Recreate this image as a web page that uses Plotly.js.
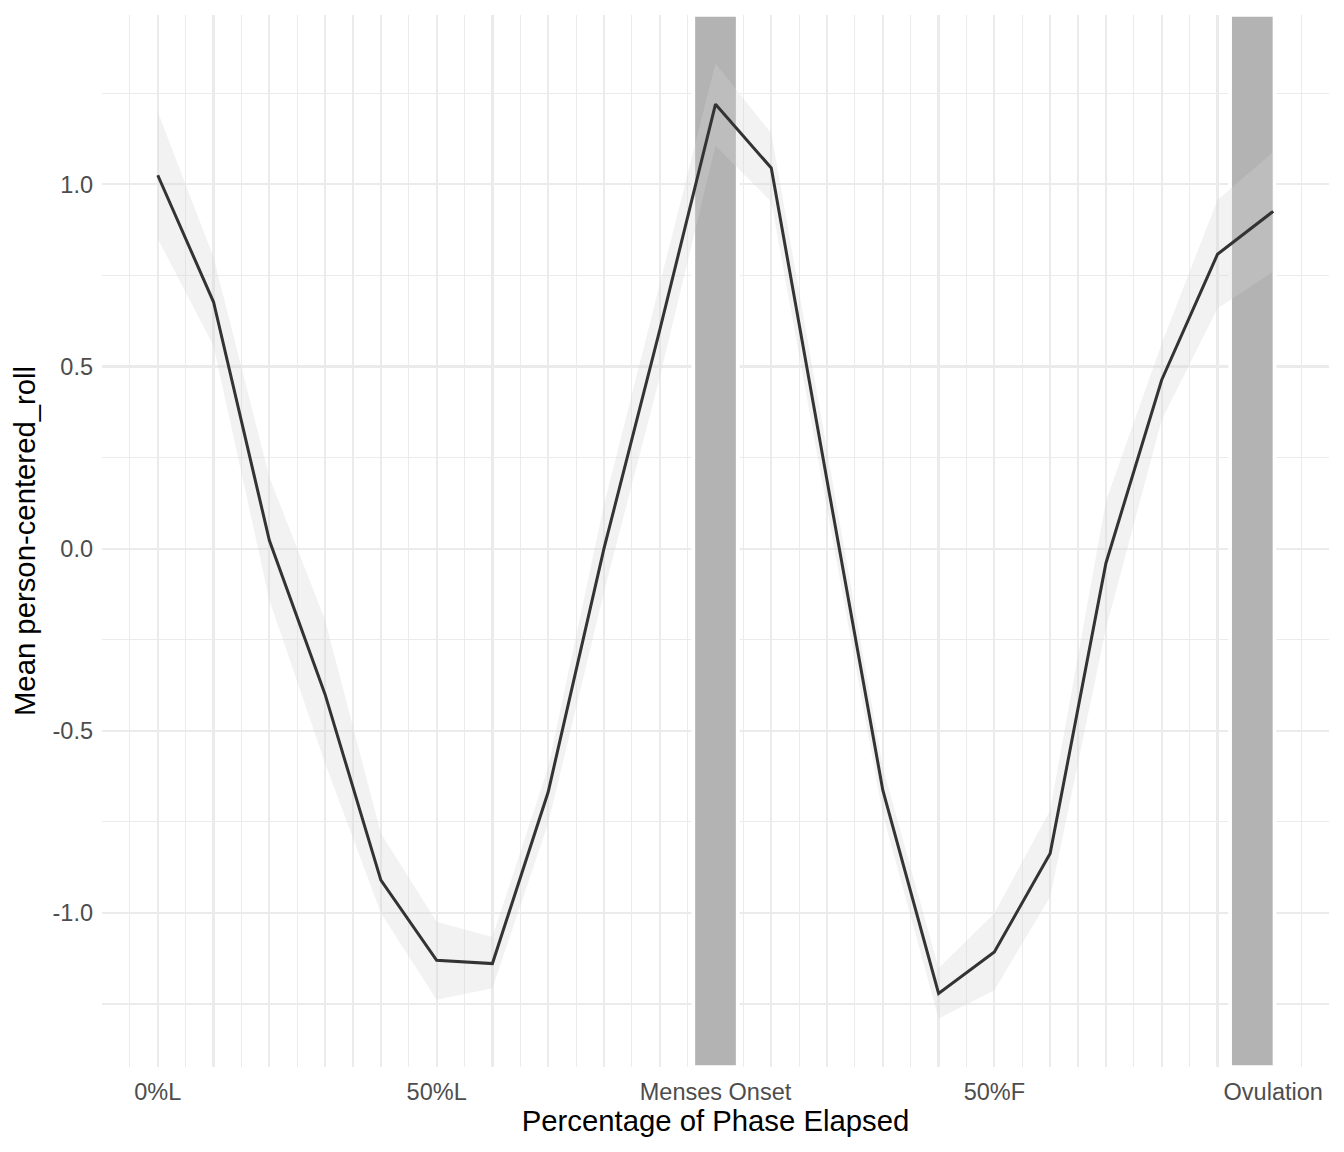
<!DOCTYPE html>
<html>
<head>
<meta charset="utf-8">
<script src="https://cdn.plot.ly/plotly-3.0.1.min.js"></script>
<style>html,body{margin:0;padding:0;background:#fff;}#chart{width:1344px;height:1152px;}</style>
</head>
<body>
<div id="chart"></div>
<script>
// Position along the cycle (0 = 0%L ... 10 = Menses Onset ... 20 = Ovulation)
const xPos = [0,1,2,3,4,5,6,7,8,9,10,11,12,13,14,15,16,17,18,19,20];
const meanRoll = [1.025,0.677,0.023,-0.40,-0.910,-1.130,-1.139,-0.668,0.00,0.60,1.220,1.045,0.187,-0.663,-1.221,-1.107,-0.837,-0.040,0.463,0.808,0.926];
const upperCI = [1.199,0.80,0.197,-0.196,-0.781,-1.024,-1.066,-0.60,0.12,0.73,1.332,1.140,0.27,-0.60,-1.152,-1.001,-0.718,0.13,0.563,0.957,1.089];
const lowerCI = [0.851,0.556,-0.141,-0.589,-1.00,-1.238,-1.207,-0.754,-0.12,0.47,1.106,0.952,0.11,-0.73,-1.29,-1.212,-0.956,-0.22,0.353,0.659,0.760];

const xTickVals = [0,1,2,3,4,5,6,7,8,9,10,11,12,13,14,15,16,17,18,19,20];
const xTickText = ['0%L','','','','','50%L','','','','','Menses Onset','','','','','50%F','','','','','Ovulation'];
const yTickVals = [-1,-0.5,0,0.5,1];
const yTickText = ['-1.0','-0.5','0.0','0.5','1.0'];

// Highlighted phase bands: centre and width along the x scale
const bandCenters = [10.0, 19.625];
const bandWidths = [0.73, 0.73];

const xRange = [-1, 21];
const yRange = [-1.4229, 1.4649];
const gridCol = '#EBEBEB';

const traces = [
  {
    type:'bar', x:bandCenters, width:bandWidths.map(w => w + 0.066),
    base:bandCenters.map(() => yRange[0]), y:bandCenters.map(() => yRange[1] - yRange[0]),
    marker:{color:'#B3B3B3', line:{color:'#FFFFFF', width:3.7}},
    hoverinfo:'skip', showlegend:false
  },
  {x:xPos, y:lowerCI, type:'scatter', mode:'lines', line:{width:0, color:'rgba(0,0,0,0)'}, hoverinfo:'skip', showlegend:false},
  {x:xPos, y:upperCI, type:'scatter', mode:'lines', fill:'tonexty', fillcolor:'rgba(212,212,212,0.3)', line:{width:0, color:'rgba(0,0,0,0)'}, hoverinfo:'skip', showlegend:false},
  {x:xPos, y:meanRoll, type:'scatter', mode:'lines', line:{color:'#333333', width:3}, showlegend:false}
];

const layout = {
  width:1344, height:1152,
  margin:{l:102, r:15, t:15, b:85},
  paper_bgcolor:'#FFFFFF', plot_bgcolor:'#FFFFFF',
  font:{family:'"Liberation Sans", Arial, sans-serif', color:'#4D4D4D'},
  showlegend:false,
  bargap:0,
  xaxis:{
    range:xRange, tickmode:'array', tickvals:xTickVals, ticktext:xTickText,
    showgrid:true, gridcolor:gridCol, gridwidth:2.2, zeroline:false, showline:false, ticks:'',
    tickfont:{size:23.5, color:'#4D4D4D'}, ticklabelstandoff:8,
    minor:{tickmode:'linear', tick0:-1, dtick:0.5, showgrid:true, gridcolor:gridCol, gridwidth:1.1, ticks:''},
    title:{text:'Percentage of Phase Elapsed', font:{size:29.3, color:'#000000'}, standoff:6}
  },
  yaxis:{
    range:yRange, tickmode:'array', tickvals:yTickVals, ticktext:yTickText,
    showgrid:true, gridcolor:gridCol, gridwidth:2.2, zeroline:false, showline:false, ticks:'',
    tickfont:{size:23.5, color:'#4D4D4D'}, ticklabelstandoff:8,
    minor:{tickmode:'linear', tick0:-1.25, dtick:0.5, showgrid:true, gridcolor:gridCol, gridwidth:1.1, ticks:''},
    title:{text:'Mean person-centered_roll', font:{size:29.3, color:'#000000'}, standoff:8}
  }
};

Plotly.newPlot('chart', traces, layout, {displayModeBar:false, staticPlot:true});
</script>
</body>
</html>
